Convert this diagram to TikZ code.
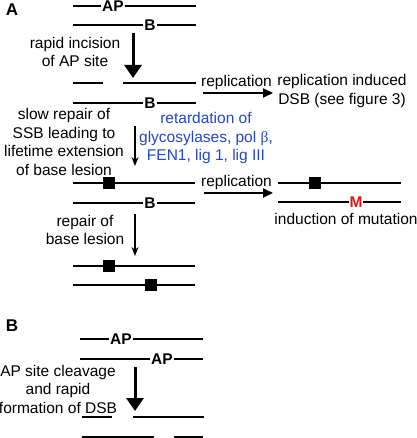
\documentclass[tikz,border=0pt]{standalone}
\usepackage{fontspec}
\setmainfont{Liberation Sans}
\newfontfamily\greekserif{Liberation Serif}
\usetikzlibrary{arrows.meta, positioning}
\definecolor{noteblue}{RGB}{35,70,205}
\definecolor{mutred}{RGB}{230,20,20}
\tikzset{
  strand/.style={line width=1.3pt},
  site/.style={fill=white, inner sep=1pt, font=\fontsize{15.5}{18}\selectfont\bfseries},
  lesion/.style={fill=black, minimum size=12pt, inner sep=0pt},
  note/.style={align=center, inner sep=0pt, font=\fontsize{15.5}{18.5}\selectfont},
  panel/.style={inner sep=0pt, font=\fontsize{17}{20}\selectfont\bfseries},
  bigarrow/.style={-{Triangle[length=13pt, width=17pt]}, line width=3pt},
  steparrow/.style={-{Stealth[length=9pt, width=7pt]}, line width=1.3pt},
  reparrow/.style={-{Triangle[length=10pt, width=9pt]}, line width=2pt}
}

\begin{document}
\begin{tikzpicture}[x=1pt, y=-1pt]
\useasboundingbox (0,0) rectangle (416,438);

% Panel A: labels
\node[panel] (A) at (12,10) {A};
\node[panel] (Bp) at (12,326) {B};

% Row 1: intact duplex with AP site
\draw[strand] (73,6) -- (196,6);
\node[site] (ap1) at (113,6) {AP};
\draw[strand] (73,25) -- (196,25);
\node[site] (b1) at (150,25) {B};

% incision
\coordinate (inc-top) at (133,33);
\coordinate (inc-bot) at (133,78);
\draw[bigarrow] (inc-top) -- (inc-bot);
\node[note] (incision) at (75,52) {rapid incision\\of AP site};

% Row 2: SSB
\draw[strand] (73,83) -- (103,83);
\draw[strand] (123,83) -- (196,83);
\draw[strand] (73,103) -- (196,103);
\node[site] (b2) at (150,103) {B};

% SSB -> replication induced DSB
\coordinate (rep1-s) at (203,93);
\coordinate (rep1-e) at (273,93);
\draw[reparrow] (rep1-s) -- (rep1-e);
\node[note, above=3pt of rep1-s, anchor=south west, xshift=-2pt] (rep1) {replication};
\node[note] (dsb) at (342,91) {replication induced\\DSB (see figure 3)};

% slow repair
\coordinate (slow-top) at (135,126);
\coordinate (slow-bot) at (135,166);
\draw[steparrow] (slow-top) -- (slow-bot);
\node[note] (slow) at (64,142) {slow repair of\\SSB leading to\\lifetime extension\\of base lesion};
\node[note, text=noteblue] (retard) at (206,138) {retardation of\\glycosylases, pol {\greekserif β},\\FEN1, lig 1, lig III};

% Row 3: base lesion persists
\draw[strand] (73,183) -- (195,183);
\node[lesion] (les3) at (109,183) {};
\draw[strand] (73,203) -- (195,203);
\node[site] (b3) at (150,203) {B};

% base lesion -> mutation
\coordinate (rep2-s) at (204,193);
\coordinate (rep2-e) at (273,193);
\draw[reparrow] (rep2-s) -- (rep2-e);
\node[note, above=3pt of rep2-s, anchor=south west, xshift=-3pt] (rep2) {replication};
\draw[strand] (278,183) -- (401,183);
\node[lesion] (les4) at (315,183) {};
\draw[strand] (278,202) -- (401,202);
\node[site, text=mutred] (mut) at (356,202) {M};
\node[note] (induct) at (346,219) {induction of mutation};

% repair of base lesion
\coordinate (rep-top) at (135,214);
\coordinate (rep-bot) at (135,256);
\draw[steparrow] (rep-top) -- (rep-bot);
\node[note] (repair) at (85,230) {repair of\\base lesion};

% Row 4: repaired
\draw[strand] (73,266) -- (195,266);
\node[lesion] (les5) at (109,266) {};
\draw[strand] (73,285) -- (195,285);
\node[lesion] (les6) at (151,285) {};

% Panel B: clustered AP sites
\draw[strand] (80,339) -- (203,339);
\node[site] (ap2) at (121,339) {AP};
\draw[strand] (80,359) -- (203,359);
\node[site] (ap3) at (162,359) {AP};

\coordinate (cl-top) at (135,367);
\coordinate (cl-bot) at (135,411);
\draw[bigarrow] (cl-top) -- (cl-bot);
\node[note] (cleave) at (58,389) {AP site cleavage\\and rapid\\formation of DSB};

% DSB
\draw[strand] (82,417) -- (112,417);
\draw[strand] (133,417) -- (204,417);
\draw[strand] (82,437) -- (154,437);
\draw[strand] (174,437) -- (203,437);

\end{tikzpicture}
\end{document}
